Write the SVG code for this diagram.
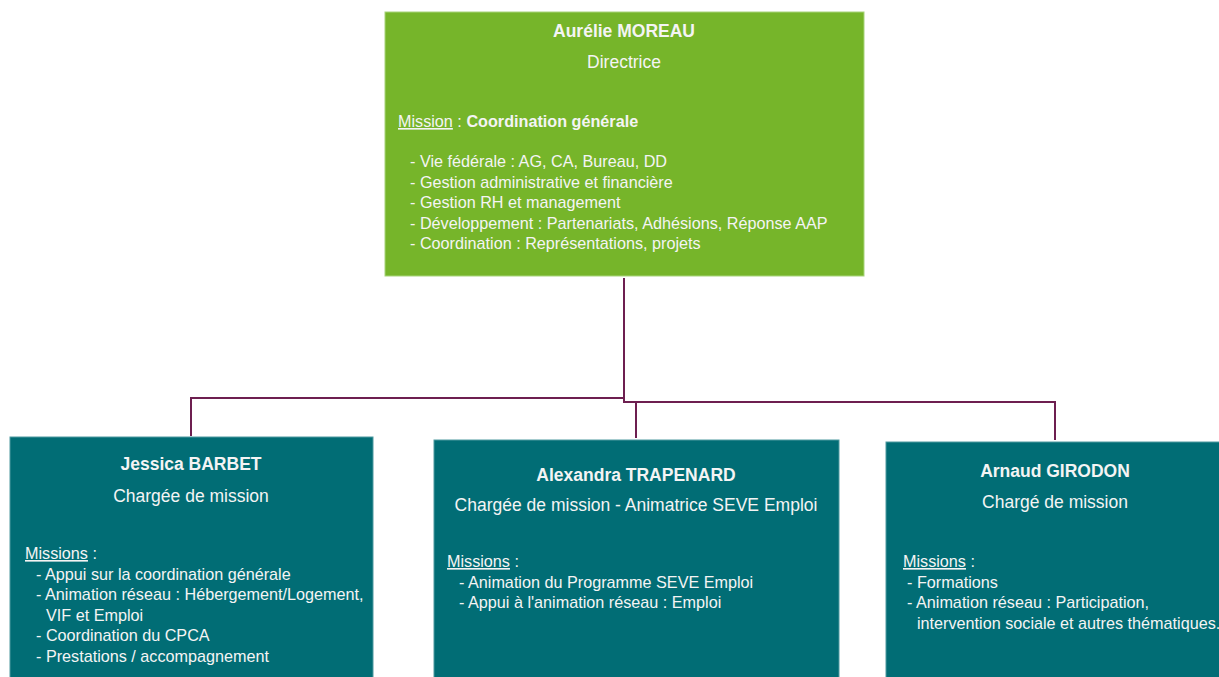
<svg xmlns="http://www.w3.org/2000/svg" width="1219" height="677" viewBox="0 0 1219 677">
<style>
text{font-family:"Liberation Sans",Arial,sans-serif;fill:#F4F4F4;}
.t{font-size:17.5px;font-weight:bold;text-anchor:middle;}
.s{font-size:17.5px;text-anchor:middle;}
.b{font-size:16.2px;}
.u{text-decoration:underline;}
.green{fill:#76B52A;stroke:#A8D47A;stroke-width:1;}
.teal{fill:#016D75;stroke:#4E9AA0;stroke-width:1;}
.con{fill:none;stroke:#6D1F50;stroke-width:2;}
</style>
<rect width="1219" height="677" fill="#FFFFFF"/>
<g id="connectors">
<path class="con" d="M624,278 V398 H191 V436"/>
<path class="con" d="M624,398 V402 H1055 V440" stroke-width="2.5"/>
<path class="con" d="M636,402 V438"/>
</g>
<g id="node-moreau">
<rect class="green" x="385" y="12" width="479" height="264"/>
<text class="t" x="624" y="37">Aurélie MOREAU</text>
<text class="s" x="624" y="68">Directrice</text>
<text class="b" x="398" y="127"><tspan class="u">Mission</tspan> : <tspan font-weight="bold">Coordination générale</tspan></text>
<text class="b" x="410" y="167">- Vie fédérale : AG, CA, Bureau, DD</text>
<text class="b" x="410" y="188">- Gestion administrative et financière</text>
<text class="b" x="410" y="208">- Gestion RH et management</text>
<text class="b" x="410" y="229">- Développement : Partenariats, Adhésions, Réponse AAP</text>
<text class="b" x="410" y="249">- Coordination : Représentations, projets</text>
</g>
<g id="node-barbet">
<rect class="teal" x="10" y="437" width="363" height="250"/>
<text class="t" x="191" y="470">Jessica BARBET</text>
<text class="s" x="191" y="502">Chargée de mission</text>
<text class="b" x="25" y="559"><tspan class="u">Missions</tspan> :</text>
<text class="b" x="36" y="580">- Appui sur la coordination générale</text>
<text class="b" x="36" y="600">- Animation réseau : Hébergement/Logement,</text>
<text class="b" x="46" y="621">VIF et Emploi</text>
<text class="b" x="36" y="641">- Coordination du CPCA</text>
<text class="b" x="36" y="662">- Prestations / accompagnement</text>
</g>
<g id="node-trapenard">
<rect class="teal" x="434" y="440" width="405" height="247"/>
<text class="t" x="636" y="481">Alexandra TRAPENARD</text>
<text class="s" x="636" y="511">Chargée de mission - Animatrice SEVE Emploi</text>
<text class="b" x="447" y="567"><tspan class="u">Missions</tspan> :</text>
<text class="b" x="459" y="588">- Animation du Programme SEVE Emploi</text>
<text class="b" x="459" y="608">- Appui à l'animation réseau : Emploi</text>
</g>
<g id="node-girodon">
<rect class="teal" x="886" y="442" width="343" height="245"/>
<text class="t" x="1055" y="477">Arnaud GIRODON</text>
<text class="s" x="1055" y="508">Chargé de mission</text>
<text class="b" x="903" y="567"><tspan class="u">Missions</tspan> :</text>
<text class="b" x="907" y="588">- Formations</text>
<text class="b" x="907" y="608">- Animation réseau : Participation,</text>
<text class="b" x="917" y="629">intervention sociale et autres thématiques.</text>
</g>
</svg>
